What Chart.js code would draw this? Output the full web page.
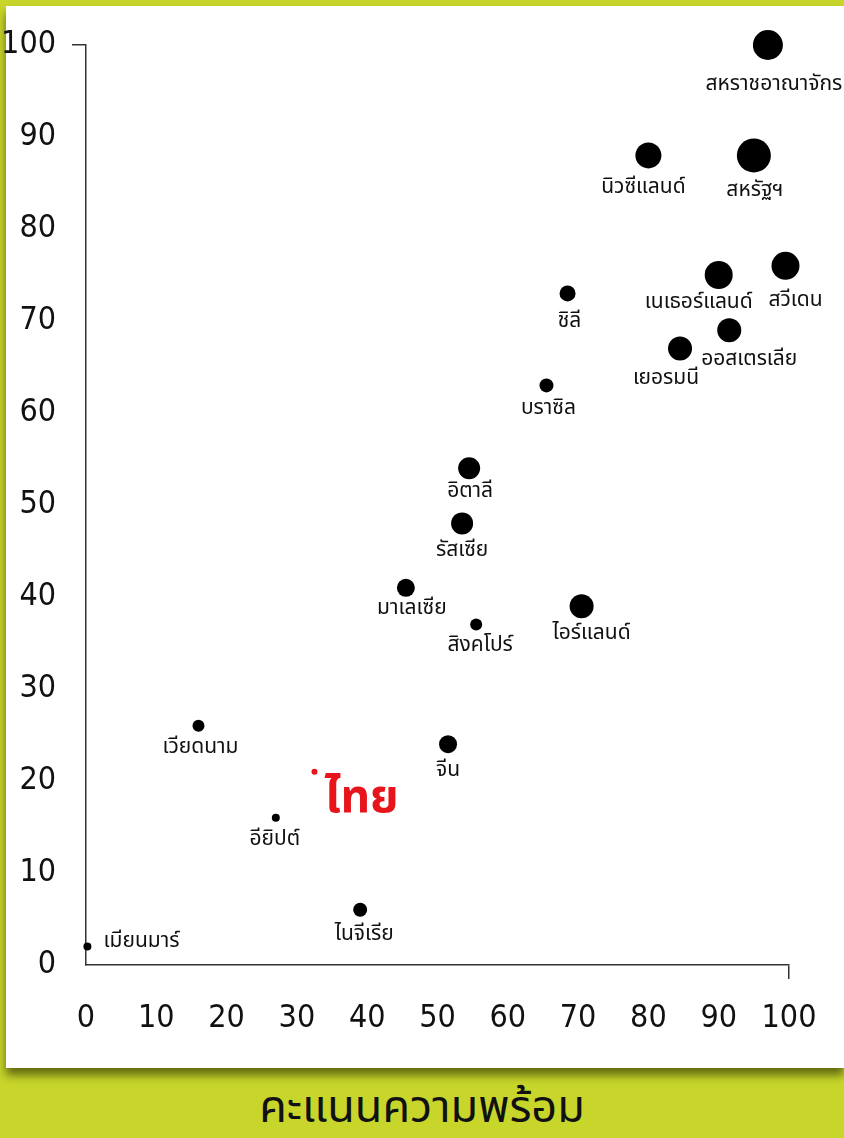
<!DOCTYPE html>
<html>
<head>
<meta charset="utf-8">
<script src="https://cdn.jsdelivr.net/npm/chart.js@4/dist/chart.umd.min.js"></script>
<style>
    html, body { margin: 0; padding: 0; }
    body { width: 844px; height: 1138px; background: #c8d62b; position: relative; overflow: hidden; font-family: "Noto Sans Thai", "Loma", "Garuda", "Noto Sans", sans-serif; }
    .panel { position: absolute; left: 6px; top: 6px; width: 838px; height: 1062px; background: #fff; box-shadow: 0 7px 9px rgba(40,45,0,0.65); }
    #chart-wrap { position: absolute; left: 0; top: 0; width: 844px; height: 1138px; }
    .title { position: absolute; left: 0; width: 844px; top: 1080px; text-align: center; font-size: 45px; color: #111; line-height: 56px; }
</style>
</head>
<body>
<div class="panel"></div>
<div class="title">คะแนนความพร้อม</div>
<div id="chart-wrap"><canvas id="readyChart" width="844" height="1138"></canvas></div>
<script>
var countries = ['สหราชอาณาจักร', 'นิวซีแลนด์', 'สหรัฐฯ', 'เนเธอร์แลนด์', 'สวีเดน', 'ออสเตรเลีย', 'เยอรมนี', 'ชิลี', 'บราซิล', 'อิตาลี', 'รัสเซีย', 'มาเลเซีย', 'สิงคโปร์', 'ไอร์แลนด์', 'จีน', 'เวียดนาม', 'อียิปต์', 'ไทย', 'ไนจีเรีย', 'เมียนมาร์'];
var xScores = [97, 80, 95, 90, 99.5, 91.5, 84.5, 68.5, 65.5, 54.5, 53.5, 45.5, 55.5, 70.5, 51.5, 16, 27, 32.5, 39, 0.2];
var yScores = [100, 88, 88, 75, 76, 69, 67, 73, 63, 54, 48, 41, 37, 39, 24, 26, 16, 21, 6, 2];
var sizes = [15, 13, 17, 14, 14, 12, 12, 8, 7, 11, 11, 9, 6, 12, 9, 6, 4, 3, 7, 4];
var tickValues = [0, 10, 20, 30, 40, 50, 60, 70, 80, 90, 100];

// label placement relative to each dot (layout only)
var labelNudge = [[6, 41], [-5, 33], [1, 36], [-20, 29], [10, 36], [20, 31], [-14, 31], [2, 29], [2, 24], [1, 25], [0, 28], [6, 22], [4, 22], [10, 29], [0, 28], [2, 23], [-1, 23], [10, 31], [4, 26], [16, -4]];
var HIGHLIGHT = 'ไทย';

var points = countries.map(function(c, i) { return { x: xScores[i], y: yScores[i], r: sizes[i] }; });

var labelPlugin = {
    id: 'countryLabels',
    afterDatasetsDraw: function(chart) {
        var ctx = chart.ctx;
        var meta = chart.getDatasetMeta(0);
        ctx.save();
        ctx.textBaseline = 'middle';
        meta.data.forEach(function(el, i) {
            var name = countries[i];
            var dx = labelNudge[i][0], dy = labelNudge[i][1];
            if (name === HIGHLIGHT) {
                ctx.fillStyle = '#e8141b';
                ctx.font = 'bold 46px "Noto Sans Thai", "Loma", "Garuda", sans-serif';
                ctx.textAlign = 'left';
            } else {
                ctx.fillStyle = '#111';
                ctx.font = '21px "Noto Sans Thai", "Loma", "Garuda", sans-serif';
                ctx.textAlign = i === countries.length - 1 ? 'left' : 'center';
            }
            ctx.fillText(name, el.x + dx, el.y + dy);
        });
        ctx.restore();
    }
};

var endTick = function(c) { return c.tick && c.tick.value === 100 ? '#333' : 'rgba(0,0,0,0)'; };
var tickFont = { family: '"Liberation Sans Narrow", "DejaVu Sans Condensed", sans-serif', size: 32 };

new Chart(document.getElementById('readyChart'), {
    type: 'bubble',
    data: {
        datasets: [{
            data: points,
            backgroundColor: countries.map(function(c) { return c === HIGHLIGHT ? '#e8141b' : '#000'; }),
            borderWidth: 0,
            hoverRadius: 0,
            clip: false
        }]
    },
    options: {
        responsive: false,
        animation: false,
        events: [],
        layout: { padding: { top: 45, right: 55, left: 0, bottom: 0 } },
        plugins: { legend: { display: false }, tooltip: { enabled: false } },
        scales: {
            x: {
                min: 0, max: 100,
                afterBuildTicks: function(s) { s.ticks = tickValues.map(function(v) { return { value: v }; }); },
                afterFit: function(s) { s.height = 173; },
                border: { display: true, color: '#333', width: 1.5 },
                grid: { drawOnChartArea: false, drawTicks: true, tickLength: 14, color: endTick, lineWidth: 1.5 },
                ticks: { color: '#111', padding: 20, maxRotation: 0, autoSkip: false, font: tickFont }
            },
            y: {
                min: 0, max: 100,
                afterBuildTicks: function(s) { s.ticks = tickValues.map(function(v) { return { value: v }; }); },
                afterFit: function(s) { s.width = 86; },
                border: { display: true, color: '#333', width: 1.5 },
                grid: { drawOnChartArea: false, drawTicks: true, tickLength: 14, color: endTick, lineWidth: 1.5 },
                ticks: { color: '#111', padding: 16, autoSkip: false, font: tickFont }
            }
        }
    },
    plugins: [labelPlugin]
});
</script>
</body>
</html>
